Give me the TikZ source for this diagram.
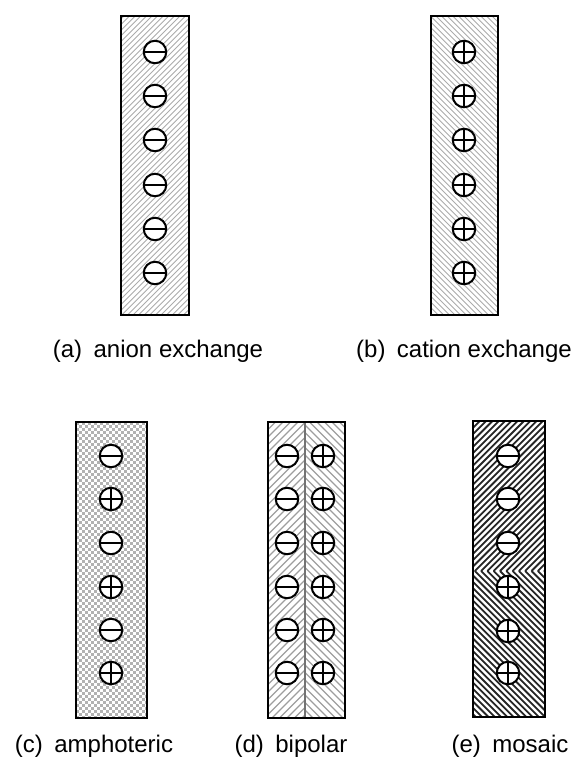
\documentclass[tikz,border=0pt]{standalone}
\usepackage{fontspec}
\setmainfont{Liberation Sans}

% diagonal hatching "/" inside a rectangle (pixel units, y pointing down)
% #1 x0, #2 y0, #3 x1, #4 y1, #5 spacing, #6 phase, #7 line style
\newcommand\mbHatchUp[7]{%
  \begin{scope}
    \clip (#1,#2) rectangle (#3,#4);
    \pgfmathtruncatemacro\kA{floor((#1+#2-#6)/#5)-1}%
    \pgfmathtruncatemacro\kB{ceil((#3+#4-#6)/#5)+1}%
    \foreach \k in {\kA,...,\kB}{%
      \pgfmathsetmacro\cc{#6+\k*#5}%
      \draw[#7] (\cc-#4,#4) -- (\cc-#2,#2);
    }
  \end{scope}}

% diagonal hatching "\" inside a rectangle
\newcommand\mbHatchDown[7]{%
  \begin{scope}
    \clip (#1,#2) rectangle (#3,#4);
    \pgfmathtruncatemacro\kA{floor((#1-#4-#6)/#5)-1}%
    \pgfmathtruncatemacro\kB{ceil((#3-#2-#6)/#5)+1}%
    \foreach \k in {\kA,...,\kB}{%
      \pgfmathsetmacro\dd{#6+\k*#5}%
      \draw[#7] (\dd+#2,#2) -- (\dd+#4,#4);
    }
  \end{scope}}

% checkered dot texture inside a rectangle
% #1 x0, #2 y0, #3 x1, #4 y1, #5 cell size, #6 colour
\newcommand\mbChecker[6]{%
  \begin{scope}
    \clip (#1,#2) rectangle (#3,#4);
    \pgfmathtruncatemacro\nRows{(#4-#2)/#5+1}%
    \pgfmathtruncatemacro\nCols{(#3-#1)/(2*#5)+1}%
    \foreach \j in {0,...,\nRows}{%
      \pgfmathsetmacro\rowoff{mod(\j,2)*#5}%
      \foreach \i in {0,...,\nCols}{%
        \fill[#6] (#1+\rowoff+2*#5*\i,#2+#5*\j) rectangle ++(#5,#5);
      }
    }
  \end{scope}}

\begin{document}
\begin{tikzpicture}[x=1pt,y=-1pt,
  frame/.style={draw=black, line width=2.8pt},
  ion/.style={circle, draw=black, line width=2pt, fill=white,
              inner sep=0pt, minimum size=22.5pt},
  anionsite/.style={ion, path picture={
      \draw[line width=1.8pt] (path picture bounding box.west) -- (path picture bounding box.east);}},
  cationsite/.style={ion, path picture={
      \draw[line width=1.8pt] (path picture bounding box.west) -- (path picture bounding box.east)
                              (path picture bounding box.north) -- (path picture bounding box.south);}},
  caption/.style={font=\fontsize{24}{28}\selectfont, inner sep=0pt, anchor=base},
  thinhatch/.style={draw=black!33, line width=0.9pt},
  midhatch/.style={draw=black!38, line width=1.3pt},
  darkhatch/.style={draw=black!85, line width=1.8pt}
]
\useasboundingbox (0,0) rectangle (572,771);

% ---------- (a) anion exchange ----------
\mbHatchUp{121}{16}{189}{315}{5.6}{0}{thinhatch}
\draw[frame] (121,16) rectangle (189,315);
\foreach \y [count=\n] in {52,96,140,185,229,273}
  \node[anionsite] (a\n) at (155,\y) {};
\node[caption] (capa) at (158,357) {(a)\hspace{0.2em} anion exchange};

% ---------- (b) cation exchange ----------
\mbHatchDown{431}{16}{498}{315}{5.6}{0}{thinhatch}
\draw[frame] (431,16) rectangle (498,315);
\foreach \y [count=\n] in {52,96,140,185,229,273}
  \node[cationsite] (b\n) at (464,\y) {};
\node[caption] (capb) at (464,357) {(b)\hspace{0.2em} cation exchange};

% ---------- (c) amphoteric ----------
\mbChecker{76}{422}{147}{718}{3}{black!30}
\draw[frame] (76,422) rectangle (147,718);
\node[anionsite] (c1) at (111,456) {};
\node[cationsite] (c2) at (111,499) {};
\node[anionsite] (c3) at (111,543) {};
\node[cationsite] (c4) at (111,587) {};
\node[anionsite] (c5) at (111,630) {};
\node[cationsite] (c6) at (111,673) {};
\node[caption] (capc) at (94,752) {(c)\hspace{0.2em} amphoteric};

% ---------- (d) bipolar ----------
\mbHatchUp{268}{422}{305}{718}{7.5}{0}{midhatch}
\mbHatchDown{305}{422}{345}{718}{7.5}{0}{midhatch}
\draw[draw=black!55, line width=1.8pt] (305,422) -- (305,718);
\draw[frame] (268,422) rectangle (345,718);
\foreach \y [count=\n] in {456,499,543,587,630,673}{
  \node[anionsite] (dl\n) at (287,\y) {};
  \node[cationsite] (dr\n) at (323,\y) {};
}
\node[caption] (capd) at (291,752) {(d)\hspace{0.2em} bipolar};

% ---------- (e) mosaic ----------
\mbHatchUp{473}{421}{545}{571}{6.3}{0}{darkhatch}
\mbHatchDown{473}{571}{545}{717}{6.3}{-1142}{darkhatch}
\draw[frame] (473,421) rectangle (545,717);
\node[anionsite] (e1) at (508,456) {};
\node[anionsite] (e2) at (508,499) {};
\node[anionsite] (e3) at (508,543) {};
\node[cationsite] (e4) at (508,587) {};
\node[cationsite] (e5) at (508,631) {};
\node[cationsite] (e6) at (508,673) {};
\node[caption] (cape) at (510,752) {(e)\hspace{0.2em} mosaic};
\end{tikzpicture}
\end{document}
